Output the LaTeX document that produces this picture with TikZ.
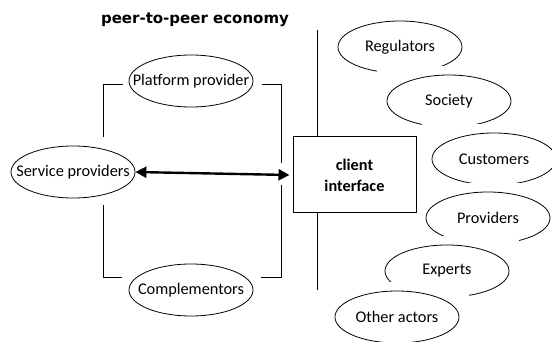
\documentclass[tikz,border=0pt]{standalone}
\usepackage{fontspec}
\setmainfont{Carlito}
\newfontfamily\titlefont{DejaVu Sans}
\usetikzlibrary{arrows.meta,calc,shapes.geometric}
\newcommand\myactor[3]{%
  \fill[white] ($(#2)+(-72,-35)$) rectangle ($(#2)+(72,35)$);
  \node[actor] (#1) at (#2) {\makebox[0pt]{#3}};}
\begin{document}
\begin{tikzpicture}[x=1pt,y=-1pt,
  actor/.style={ellipse, draw, line width=0.8pt, fill=white, minimum width=124pt,
    minimum height=52pt, inner sep=0pt, font=\fontsize{16.3}{18}\selectfont},
  ifacebox/.style={rectangle, draw, line width=1pt, fill=white, minimum width=123pt,
    minimum height=76pt, inner sep=0pt, align=center,
    font=\fontsize{16.3}{21}\selectfont\bfseries},
  bracket/.style={line width=1pt},
  biarrow/.style={line width=2.4pt, {Triangle[length=11pt,width=11pt]}-{Triangle[length=11pt,width=11pt]}}
]
\useasboundingbox (0,0) rectangle (552,342);
\node[font=\titlefont\bfseries\fontsize{15}{17}\selectfont] (title) at (195,20) {peer-to-peer economy};

% right actors
\myactor{reg}{400,47}{Regulators}
\myactor{soc}{449,101}{Society}
\myactor{cus}{494,159}{Customers}
\myactor{pro}{488,218}{Providers}
\myactor{exp}{447,271}{Experts}
\myactor{oth}{397,317}{Other actors}

% left group
\node[actor] (pp) at (191,81) {\makebox[0pt]{Platform provider}};
\node[actor] (sp) at (73,172) {\makebox[0pt]{Service providers}};
\node[actor] (cm) at (191,290) {\makebox[0pt]{Complementors}};

\coordinate (tl) at (103,85);
\coordinate (tr) at (281,85);
\coordinate (bl) at (103,277);
\coordinate (br) at (281,277);
\draw[bracket] (123,85) -- (tl) -- (103,137);
\draw[bracket] (262,85) -- (tr) -- (281,163);
\draw[bracket] (281,185) -- (br) -- (261,277);
\draw[bracket] (122,277) -- (bl) -- (103,205);

% client interface
\node[ifacebox] (box) at (354.5,175) {client\\interface};
\coordinate (vt) at (317,30);
\coordinate (vb) at (317,290);
\draw[bracket] (vt) -- (vt |- box.north);
\draw[bracket] (vb |- box.south) -- (vb);

\draw[biarrow] (sp.east) -- ([xshift=-3pt]box.west);
\end{tikzpicture}
\end{document}
